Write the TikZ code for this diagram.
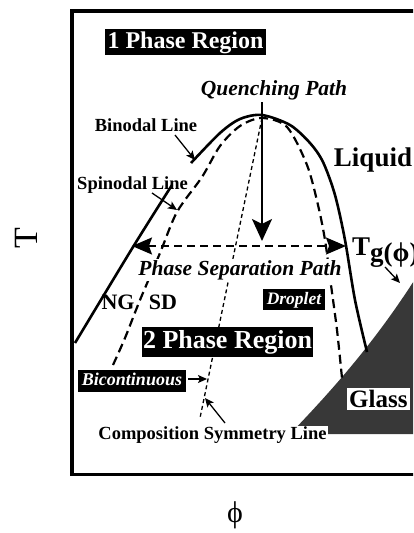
\documentclass[tikz,border=0pt]{standalone}
\usepackage{fontspec}
\setmainfont{Liberation Serif}
\usetikzlibrary{arrows.meta}
\tikzset{
  bin/.style={line width=2.6pt},
  spin/.style={line width=2.2pt, dash pattern=on 9pt off 5pt},
  sym/.style={line width=1.3pt, dash pattern=on 4pt off 3pt},
  lblarrow/.style={line width=1.3pt, -{Stealth[length=9pt,width=8pt,inset=2pt]}},
  blackbox/.style={fill=black, text=white, font=\bfseries},
  lbl/.style={font=\bfseries, inner sep=1pt},
}
\newcommand{\fsz}[1]{\fontsize{#1}{#1}\selectfont}
\begin{document}
\begin{tikzpicture}[x=1pt,y=1pt]
\useasboundingbox (0,0) rectangle (413,-533);
\clip (0,0) rectangle (413,-533);
% glass region
\fill[black!78] (290,-434) .. controls (340,-382) and (385,-330) .. (430,-255) -- (430,-434) -- cycle;
% frame
\draw[line width=3.5pt] (440,-11) -- (72,-11) -- (72,-474.5) -- (440,-474.5);
% binodal
\draw[bin] plot[smooth] coordinates {(75,-343) (133,-247) (172,-185)};
\draw[bin] plot[smooth] coordinates {(191,-163) (220,-133) (240,-119) (262,-115) (290,-125) (310,-143) (323,-162) (335,-195) (345,-240) (355,-300) (367,-352)};
% spinodal
\draw[spin] plot[smooth] coordinates {(113,-365) (125,-338) (140,-300) (160,-253) (177,-212) (202,-177) (220,-146) (240,-126) (262,-118) (287,-127) (307,-165) (318,-205) (325,-240) (331,-285) (337,-330) (342,-378)};
% symmetry line
\coordinate (crit) at (262,-118);
\coordinate (symend) at (200,-418);
\draw[sym] (crit) -- (symend);
% quenching arrow
\coordinate (qtop) at (262,-102);
\coordinate (qbot) at (262,-241);
\draw[line width=2.4pt, -{Stealth[length=22pt,width=20pt,inset=5pt]}] (qtop) -- (qbot);
% phase separation double arrow
\coordinate (pl) at (132,-246);
\coordinate (pr) at (346,-246);
\draw[line width=1.8pt, dash pattern=on 8pt off 5pt, {Stealth[length=20pt,width=17pt,inset=3pt]}-{Stealth[length=20pt,width=17pt,inset=3pt]}] (pl) -- (pr);
% labels
\node[blackbox, font=\bfseries\fsz{24}, inner xsep=2.5pt, inner ysep=2pt, text height=17pt, text depth=5pt] (one) at (185.5,-42) {1 Phase Region};
\node[lbl, font=\bfseries\itshape\fsz{21.5}] (quench) at (274,-90) {Quenching Path};
\node[lbl, font=\bfseries\fsz{18.5}] (binl) at (146,-125) {Binodal Line};
\node[lbl, font=\bfseries\fsz{18.5}] (spinl) at (132.5,-185) {Spinodal Line};
\node[lbl, font=\bfseries\fsz{27}] (liq) at (373,-160) {Liquid};
\node[lbl, font=\bfseries\fsz{27}, anchor=base west, inner sep=0pt] (tg) at (352,-255) {T\raisebox{-6pt}{g(ϕ)}};
\node[lbl, fill=white, font=\bfseries\itshape\fsz{21.5}] (psp) at (240,-270) {Phase Separation Path};
\node[lbl, font=\bfseries\fsz{22}] (ng) at (118,-302) {NG};
\node[lbl, font=\bfseries\fsz{22}] (sd) at (163,-302) {SD};
\node[blackbox, font=\bfseries\itshape\fsz{17.5}, inner xsep=3.8pt, inner ysep=2pt, text height=13pt, text depth=4pt] (drop) at (294,-299.5) {Droplet};
\node[blackbox, font=\bfseries\fsz{26}, inner xsep=1pt, inner ysep=2.5pt, text height=19pt, text depth=6pt] (two) at (227.5,-342) {2 Phase Region};
\node[blackbox, font=\bfseries\itshape\fsz{18}, inner xsep=4pt, inner ysep=2.5pt, text height=13pt, text depth=4pt] (bic) at (132,-381) {Bicontinuous};
\node[lbl, fill=white, font=\bfseries\fsz{25}, anchor=west, inner sep=2pt] (glass) at (347,-399) {Glass};
\node[lbl, fill=white, font=\bfseries\fsz{18.5}] (csl) at (212.5,-435) {Composition Symmetry Line};
\node[font=\fsz{34}, rotate=90] (tax) at (26,-238) {T};
\node[font=\fsz{30}] (phiax) at (235,-515) {ϕ};
% label arrows
\coordinate (bintip) at (195,-160);
\coordinate (spintip) at (177,-210);
\coordinate (bictip) at (207,-379);
\coordinate (csltip) at (205,-398);
\coordinate (tgtip) at (400,-283);
\draw[lblarrow] (175,-135) -- (bintip);
\draw[lblarrow] (152,-193) -- (spintip);
\draw[lblarrow] (bic.east) ++(2,2) -- (bictip);
\draw[lblarrow] (225,-423) -- (csltip);
\draw[lblarrow] (385,-267) -- (tgtip);
\end{tikzpicture}
\end{document}
